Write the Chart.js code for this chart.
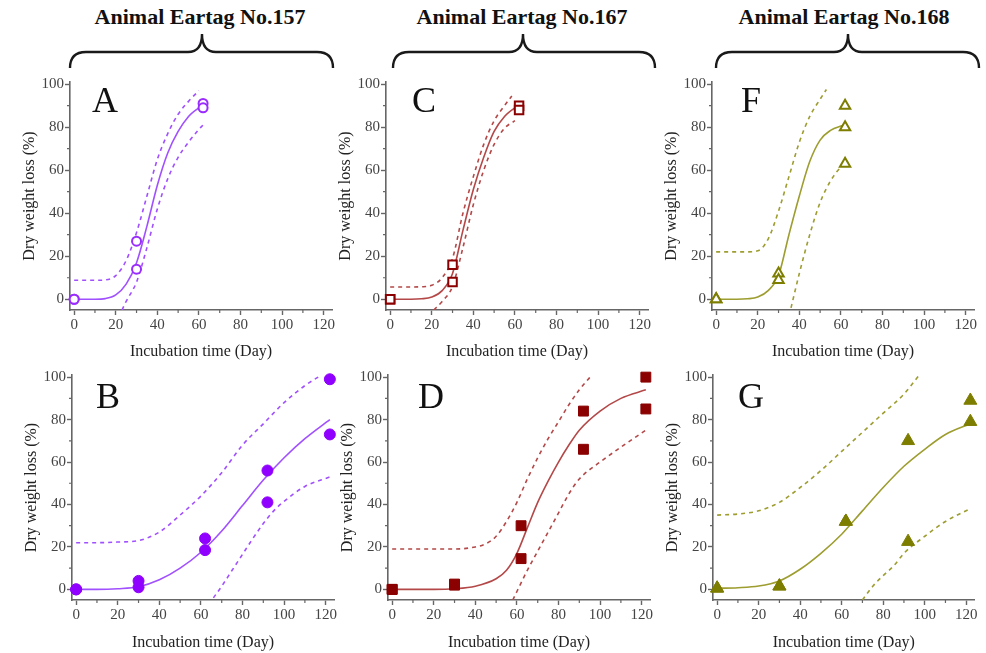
<!DOCTYPE html>
<html><head><meta charset="utf-8">
<script src="https://cdn.jsdelivr.net/npm/chart.js@4.4.1/dist/chart.umd.min.js"></script>
<style>
html,body{margin:0;padding:0;background:#fff;}
body{width:986px;height:653px;position:relative;overflow:hidden;font-family:"Liberation Serif","Times New Roman",serif;}
canvas{position:absolute;}
.ttl{position:absolute;top:6px;font-weight:bold;font-size:22px;line-height:22px;color:#111;white-space:nowrap;transform:translateX(-50%);}
.lt{position:absolute;font-size:36px;line-height:36px;color:#111;}
svg{position:absolute;left:0;top:0;}
</style></head><body>
<svg width="986" height="80" viewBox="0 0 986 80" id="braces"></svg>
<div class="ttl" style="left:200px">Animal Eartag No.157</div>
<div class="ttl" style="left:522px">Animal Eartag No.167</div>
<div class="ttl" style="left:844px">Animal Eartag No.168</div>
<script>
// ---- tick labels ----
const tickX = [0, 20, 40, 60, 80, 100, 120];
const tickY = [0, 20, 40, 60, 80, 100];
const minorX = [10, 30, 50, 70, 90, 110];
const minorY = [10, 30, 50, 70, 90];

// ---- Panel A (No.157, short incubation) ----
const ptsA_x = [0, 0, 30, 30, 62, 62];
const ptsA_y = [0, 0, 27, 14, 91, 89];
const fitA_x = [0, 5, 10, 15, 20, 25, 30, 35, 40, 45, 50, 55, 60, 62];
const fitA_y = [0, 0, 0, 0.3, 2, 7, 17, 34, 53, 68, 78, 85, 89, 90];
const upA_x = [0, 5, 10, 15, 20, 25, 30, 35, 40, 45, 50, 55, 60];
const upA_y = [8.8, 8.8, 8.8, 9, 11, 18, 31, 48, 65, 77, 86, 92, 97];
const loA_x = [23, 25, 30, 35, 40, 45, 50, 55, 60, 62];
const loA_y = [-5, -1, 8, 24, 42, 56, 66, 73, 79, 81];

// ---- Panel C (No.167, short incubation) ----
const ptsC_x = [0, 0, 30, 30, 62, 62];
const ptsC_y = [0, 0, 16, 8, 90, 88];
const fitC_x = [0, 5, 10, 15, 20, 25, 30, 35, 40, 45, 50, 55, 60, 62];
const fitC_y = [0, 0, 0, 0.2, 1, 4, 12, 32, 51, 66, 78, 85, 89, 90];
const upC_x = [0, 5, 10, 15, 20, 25, 30, 35, 40, 45, 50, 55, 58.5];
const upC_y = [5.7, 5.7, 5.7, 5.8, 6.5, 10, 19, 40, 57, 72, 83, 90, 94.5];
const loC_x = [21, 25, 30, 35, 40, 45, 50, 55, 60];
const loC_y = [-5, -1, 6, 24, 44, 60, 72, 79.5, 83];

// ---- Panel F (No.168, short incubation) ----
const ptsF_x = [0, 0, 30, 30, 62, 62, 62];
const ptsF_y = [0, 0, 12, 9, 90, 80, 63];
const fitF_x = [0, 5, 10, 15, 20, 25, 30, 35, 40, 45, 50, 55, 60, 62];
const fitF_y = [0, 0, 0, 0.2, 1, 4, 11, 30, 48, 64, 74, 78.5, 80.5, 81];
const upF_x = [0, 5, 10, 15, 20, 25, 30, 35, 40, 45, 50, 53];
const upF_y = [22, 22, 22, 22, 22.5, 28, 41, 57, 73, 85, 93, 97.5];
const loF_x = [36, 40, 45, 50, 55, 60, 62];
const loF_y = [-4, 12, 30, 45, 55, 61.5, 63];

// ---- Panel B (No.157, long incubation) ----
const ptsB_x = [0, 0, 30, 30, 62, 62, 92, 92, 122, 122];
const ptsB_y = [0, 0, 4, 1, 24, 18.5, 56, 41, 99, 73];
const fitB_x = [0, 10, 20, 30, 40, 50, 60, 70, 80, 90, 100, 110, 122];
const fitB_y = [0, 0, 0.3, 1.2, 4.5, 10, 17.5, 27.5, 39.5, 51.5, 62, 71, 80];
const upB_x = [0, 10, 20, 30, 40, 50, 60, 70, 80, 90, 100, 110, 118];
const upB_y = [22, 22, 22.3, 23, 27, 35, 44, 55, 68, 78, 88, 96, 101];
const loB_x = [66, 70, 75, 80, 85, 90, 95, 100, 110, 122];
const loB_y = [-4, 1.5, 9, 16.5, 24, 31, 37, 41.5, 48.5, 53];

// ---- Panel D (No.167, long incubation) ----
const ptsD_x = [0, 0, 30, 30, 62, 62, 92, 92, 122, 122];
const ptsD_y = [0, 0, 2.5, 2, 30, 14.5, 84, 66, 100, 85];
const fitD_x = [0, 10, 20, 30, 40, 50, 55, 60, 65, 70, 75, 80, 85, 90, 100, 110, 122];
const fitD_y = [0, 0, 0, 0.3, 1.5, 5, 9, 17, 29, 41, 51, 60, 68, 75, 84, 90, 94];
const upD_x = [0, 10, 20, 30, 40, 45, 50, 55, 60, 65, 70, 75, 80, 85, 90, 97];
const upD_y = [19, 19, 19, 19, 20, 21.5, 25, 32, 41, 52, 62, 71, 79, 87, 94, 102];
const loD_x = [58, 60, 65, 70, 75, 80, 85, 90, 100, 110, 122];
const loD_y = [-5, -1, 9, 18, 27, 36, 45, 52, 60, 67, 75];

// ---- Panel G (No.168, long incubation) ----
const ptsG_x = [0, 0, 30, 30, 62, 62, 92, 92, 122, 122];
const ptsG_y = [0.5, 0.5, 1.5, 1.5, 32, 32, 70, 22.5, 89, 79];
const fitG_x = [0, 10, 20, 30, 40, 50, 60, 70, 80, 90, 100, 110, 122];
const fitG_y = [0.5, 0.8, 1.6, 4, 9.5, 17, 26, 37, 48, 58, 66, 73, 78];
const upG_x = [0, 10, 20, 30, 40, 50, 60, 70, 80, 90, 97];
const upG_y = [35, 35.5, 37, 41, 48, 56, 65, 74, 83, 92, 100.5];
const loG_x = [70, 75, 80, 85, 90, 100, 110, 122];
const loG_y = [-5, 1.5, 6.5, 11, 17, 25, 32, 38];

const FONT = "'Liberation Serif', 'Times New Roman', serif";
const zip = (xs, ys) => xs.map((x, i) => ({x: x, y: ys[i]}));

const panels = [
  {L:'A', plotLeft:70,  row:0, pts:[ptsA_x,ptsA_y], fit:[fitA_x,fitA_y], up:[upA_x,upA_y], lo:[loA_x,loA_y], mc:'#9a2cff', lc:'#a050ff', ps:'circle',   filled:false, r:4.5, letterLeft:92},
  {L:'C', plotLeft:386, row:0, pts:[ptsC_x,ptsC_y], fit:[fitC_x,fitC_y], up:[upC_x,upC_y], lo:[loC_x,loC_y], mc:'#8b0000', lc:'#b44848', ps:'rect',     filled:false, r:6,   letterLeft:412},
  {L:'F', plotLeft:712, row:0, pts:[ptsF_x,ptsF_y], fit:[fitF_x,fitF_y], up:[upF_x,upF_y], lo:[loF_x,loF_y], mc:'#7d7d00', lc:'#9d9d30', ps:'triangle', filled:false, r:6,   letterLeft:741},
  {L:'B', plotLeft:72,  row:1, pts:[ptsB_x,ptsB_y], fit:[fitB_x,fitB_y], up:[upB_x,upB_y], lo:[loB_x,loB_y], mc:'#8f00ff', lc:'#a050ff', ps:'circle',   filled:true,  r:5.5, letterLeft:96},
  {L:'D', plotLeft:388, row:1, pts:[ptsD_x,ptsD_y], fit:[fitD_x,fitD_y], up:[upD_x,upD_y], lo:[loD_x,loD_y], mc:'#8b0000', lc:'#b44848', ps:'rect',     filled:true,  r:7,   letterLeft:418},
  {L:'G', plotLeft:713, row:1, pts:[ptsG_x,ptsG_y], fit:[fitG_x,fitG_y], up:[upG_x,upG_y], lo:[loG_x,loG_y], mc:'#7d7d00', lc:'#9d9d30', ps:'triangle', filled:true,  r:7.5, letterLeft:738}
];

const minorTicks = {
  id: 'minorTicks',
  afterDraw(chart) {
    const ctx = chart.ctx, xs = chart.scales.x, ys = chart.scales.y;
    ctx.save();
    ctx.strokeStyle = '#666';
    ctx.lineWidth = 1.2;
    ctx.beginPath();
    minorX.forEach(v => { const p = xs.getPixelForValue(v); ctx.moveTo(p, xs.top); ctx.lineTo(p, xs.top + 3); });
    minorY.forEach(v => { const p = ys.getPixelForValue(v); ctx.moveTo(ys.right, p); ctx.lineTo(ys.right - 3, p); });
    ctx.stroke();
    ctx.restore();
  }
};

panels.forEach(p => {
  const cv = document.createElement('canvas');
  const top = p.row === 0 ? 70 : 363;
  const h = p.row === 0 ? 295 : 292;
  cv.width = 340; cv.height = h;
  cv.style.left = (p.plotLeft - 70) + 'px';
  cv.style.top = top + 'px';
  cv.style.width = '340px'; cv.style.height = h + 'px';
  document.body.appendChild(cv);

  const lt = document.createElement('div');
  lt.className = 'lt';
  lt.textContent = p.L;
  lt.style.left = p.letterLeft + 'px';
  lt.style.top = (p.row === 0 ? 81.5 : 377.8) + 'px';
  document.body.appendChild(lt);

  const lineDs = (arr, dash) => ({
    data: zip(arr[0], arr[1]), showLine: true, borderColor: p.lc, borderWidth: 1.6,
    borderDash: dash, pointRadius: 0, pointHoverRadius: 0, fill: false,
    cubicInterpolationMode: 'monotone'
  });

  new Chart(cv, {
    type: 'scatter',
    data: {
      datasets: [
        {data: zip(p.pts[0], p.pts[1]), showLine: false, pointStyle: p.ps, pointRadius: p.r,
         pointHoverRadius: p.r, borderColor: p.mc, backgroundColor: p.filled ? p.mc : '#ffffff',
         borderWidth: p.filled ? 1 : 2, clip: false},
        lineDs(p.fit, []),
        lineDs(p.up, [4, 4]),
        lineDs(p.lo, [4, 4])
      ]
    },
    options: {
      responsive: false, animation: false, devicePixelRatio: 1,
      layout: {padding: {left: 0, top: 12, right: 8, bottom: 0}},
      plugins: {legend: {display: false}, tooltip: {enabled: false}},
      scales: {
        x: {
          type: 'linear', min: -2, max: 124,
          afterBuildTicks: s => { s.ticks = tickX.map(v => ({value: v})); },
          afterFit: s => { s.height = 55; },
          grid: {drawOnChartArea: false, drawTicks: true, tickLength: 5, tickColor: '#666', tickWidth: 1.4},
          border: {color: '#666', width: 1.6},
          ticks: {font: {family: FONT, size: 15}, color: '#444', padding: 1, maxRotation: 0, autoSkip: false},
          title: {display: true, text: 'Incubation time (Day)', font: {family: FONT, size: 16}, color: '#222',
                  padding: {top: 0, bottom: p.row === 0 ? 3.4 : 2.4}}
        },
        y: {
          type: 'linear', min: -5, max: 101,
          afterBuildTicks: s => { s.ticks = tickY.map(v => ({value: v})); },
          afterFit: s => { s.width = 70; },
          grid: {drawOnChartArea: false, drawTicks: true, tickLength: 5, tickColor: '#666', tickWidth: 1.4},
          border: {color: '#666', width: 1.6},
          ticks: {font: {family: FONT, size: 15}, color: '#444', padding: 1, autoSkip: false},
          title: {display: true, text: 'Dry weight loss (%)', font: {family: FONT, size: 16}, color: '#222',
                  padding: {top: 20.4, bottom: 0}}
        }
      }
    },
    plugins: [minorTicks]
  });
});

// ---- braces ----
const braces = [[70, 202, 333], [393, 523, 655], [716, 848, 979]];
const svg = document.getElementById('braces');
braces.forEach(b => {
  const [x1, xm, x2] = b, yb = 68, ym = 52, yt = 34;
  const d = `M${x1},${yb} Q${x1},${ym} ${x1+16},${ym} L${xm-14},${ym} Q${xm},${ym} ${xm},${yt} ` +
            `Q${xm},${ym} ${xm+14},${ym} L${x2-16},${ym} Q${x2},${ym} ${x2},${yb}`;
  const path = document.createElementNS('http://www.w3.org/2000/svg', 'path');
  path.setAttribute('d', d);
  path.setAttribute('fill', 'none');
  path.setAttribute('stroke', '#1a1a1a');
  path.setAttribute('stroke-width', '2.4');
  svg.appendChild(path);
});
</script>
</body></html>
